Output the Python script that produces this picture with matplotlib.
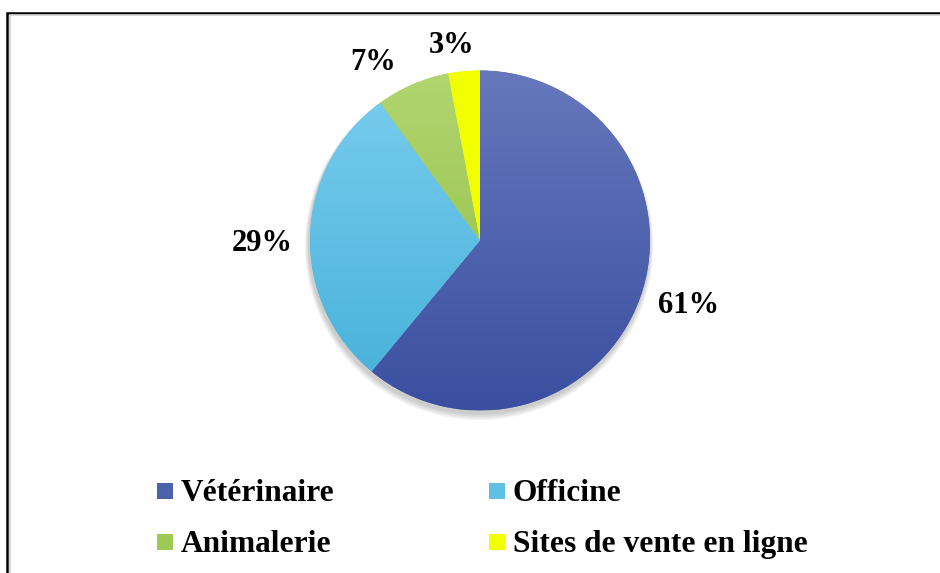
import matplotlib
matplotlib.use('Agg')
import matplotlib.pyplot as plt
import numpy as np
from matplotlib.patches import Rectangle, Circle
from matplotlib.colors import LinearSegmentedColormap

# ---- data ----
categories = ['Vétérinaire', 'Officine', 'Animalerie', 'Sites de vente en ligne']
values = [61, 29, 7, 3]
pct_labels = ['61%', '29%', '7%', '3%']

# ---- style ----
top_colors = ['#6777BC', '#7ACEEE', '#B2D570', '#F2FF00']
bottom_colors = ['#3A4FA0', '#45AFD9', '#8BBC3D', '#F2FF00']
flat_colors = ['#4C61AC', '#5EC0E6', '#9DC955', '#F2FF00']
label_dist = [1.282, 1.282, 1.221, 1.159]
label_dang = [2.5, 2.6, 7.6, 2.8]

W, H = 940, 573
R = 170.0
CX, CY = 480.0, 240.5  # pixel centre (from top-left)

fig = plt.figure(figsize=(W / 100, H / 100), dpi=100)
ax = fig.add_axes([0, 0, 1, 1])

FONT = dict(family='Liberation Serif', weight='bold', size=22, color='black')
LFONT = dict(family='Liberation Serif', weight='bold', size=22.6, color='black')

# soft shadow
for i, a in enumerate([0.05, 0.05, 0.05, 0.05]):
    ax.add_patch(Circle((-0.005, -0.02 - 0.004 * i), 1.0 + 0.006 * (i + 1),
                        facecolor='#000000', alpha=a, edgecolor='none', zorder=0))

wedges, _ = ax.pie(values, colors=flat_colors, startangle=90, counterclock=False,
                   radius=1.0, wedgeprops=dict(linewidth=0, edgecolor='none'))

grad = np.linspace(0, 1, 256).reshape(-1, 1)
for w, c1, c2 in zip(wedges, top_colors, bottom_colors):
    w.set_zorder(1)
    cmap = LinearSegmentedColormap.from_list('g', [c1, c2])
    im = ax.imshow(grad, cmap=cmap, extent=(-1, 1, -1, 1), origin='upper',
                   aspect='auto', zorder=2, interpolation='bilinear')
    im.set_clip_path(w)

# percentage labels
for w, lab, d, da in zip(wedges, pct_labels, label_dist, label_dang):
    mid = np.deg2rad((w.theta1 + w.theta2) / 2 + da)
    ax.text(d * np.cos(mid), d * np.sin(mid), lab, ha='center', va='center',
            zorder=5, **FONT)

# axis limits so that 1 data unit = R pixels with centre at (CX, CY)
ax.set_xlim(-CX / R, (W - CX) / R)
ax.set_ylim(-(H - CY) / R, CY / R)
ax.set_aspect('auto')
ax.axis('off')

# legend (manual, two columns)
col_x = [157, 489]
row_y = [491, 542]
sq = 16
for i, cat in enumerate(categories):
    x = col_x[i % 2]
    y = row_y[i // 2]
    fx, fy = x / W, 1 - (y + sq / 2) / H
    fig.patches.append(Rectangle((fx, fy), sq / W, sq / H, transform=fig.transFigure,
                                 facecolor=flat_colors[i], edgecolor='none'))
    fig.text((x + sq + 8) / W, 1 - (y + 10) / H, cat, ha='left', va='baseline', **LFONT)

# border (top and left visible, right/bottom beyond the image)
fig.patches.append(Rectangle((7 / W, -0.05), 1.1, 1 - 12.5 / H + 0.05,
                             transform=fig.transFigure, facecolor='none',
                             edgecolor='black', linewidth=1.8))
fig.patches.append(Rectangle((9.5 / W, -0.05), 1.1, 1 - 15 / H + 0.05,
                             transform=fig.transFigure, facecolor='none',
                             edgecolor='#d0d0d0', linewidth=1.2))

fig.savefig('out.png', dpi=100)
